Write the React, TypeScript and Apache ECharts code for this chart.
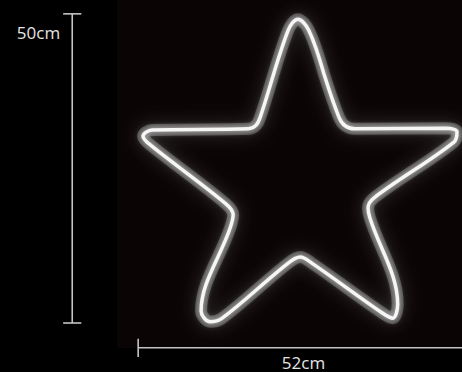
import React, { useEffect, useRef } from "react";
import * as echarts from "echarts";

// Star outline (neon tube), in cm: [x, y], origin at left tip / bottom tip
const starOutline: [number, number][] = [
  [29.9, 41.2], [32.4, 34.0], [33.4, 32.6], [35.0, 32.1],
  [50.2, 32.2], [51.9, 31.6], [51.4, 29.9],
  [38.2, 20.7], [37.2, 19.0], [37.5, 17.4],
  [42.1, 3.1], [41.3, 0.8], [39.5, 1.7],
  [27.9, 9.9], [26.0, 10.9], [24.0, 9.9],
  [13.1, 0.8], [11.1, 0.2], [9.6, 2.0],
  [14.4, 15.7], [14.9, 17.9], [13.7, 19.7],
  [1.0, 29.6], [0.0, 30.9], [1.5, 31.9],
  [17.4, 32.1], [18.7, 32.7], [19.5, 34.4],
  [24.0, 48.4], [25.6, 50.2], [27.4, 48.4],
  [29.9, 41.2],
];

// Dimension lines (cm)
const heightLine: [number, number][] = [[-11.7, 0], [-11.7, 51.1]];
const heightCapTop: [number, number][] = [[-13.2, 51.1], [-10.2, 51.1]];
const heightCapBottom: [number, number][] = [[-13.2, 0], [-10.2, 0]];
const widthLine: [number, number][] = [[-0.8, -4.1], [52.8, -4.1]];
const widthCapLeft: [number, number][] = [[-0.8, -2.6], [-0.8, -5.6]];

const heightLabel = "50cm";
const widthLabel = "52cm";

export default function App() {
  const ref = useRef<HTMLDivElement>(null);
  useEffect(() => {
    if (!ref.current) return;
    const chart = echarts.init(ref.current, null, { renderer: "svg" });
    const dimStyle = { color: "#c4c4c4", width: 1.6 };
    const dimSeries = (data: [number, number][]) => ({
      type: "line",
      data,
      showSymbol: false,
      silent: true,
      lineStyle: dimStyle,
      z: 3,
    });
    chart.setOption({
      animation: false,
      backgroundColor: "#000000",
      grid: { left: 0, right: 0, top: 0, bottom: 0 },
      xAxis: { type: "value", min: -23.64, max: 52.73, show: false },
      yAxis: { type: "value", min: -8.1, max: 53.39, show: false },
      graphic: [
        {
          type: "rect",
          z: -10,
          silent: true,
          shape: { x: 117, y: 0, width: 345, height: 348 },
          style: { fill: "#0a0404" },
        },
        {
          type: "text",
          x: 38.5,
          y: 32,
          style: {
            text: heightLabel,
            fill: "#e4e4e4",
            fontSize: 17,
            fontFamily: "Open Sans",
            align: "center",
            verticalAlign: "middle",
          },
        },
        {
          type: "text",
          x: 303.5,
          y: 362,
          style: {
            text: widthLabel,
            fill: "#e4e4e4",
            fontSize: 17,
            fontFamily: "Open Sans",
            align: "center",
            verticalAlign: "middle",
          },
        },
      ],
      series: [
        {
          type: "line",
          data: starOutline,
          smooth: 0.35,
          showSymbol: false,
          silent: true,
          z: 4,
          lineStyle: {
            color: "rgba(255,255,255,0.22)",
            width: 12,
            shadowBlur: 18,
            shadowColor: "rgba(255,255,255,0.7)",
          },
        },
        {
          type: "line",
          data: starOutline,
          smooth: 0.35,
          showSymbol: false,
          silent: true,
          z: 5,
          lineStyle: {
            color: "#f6f6f6",
            width: 3.5,
            shadowBlur: 6,
            shadowColor: "rgba(255,255,255,0.9)",
          },
        },
        dimSeries(heightLine),
        dimSeries(heightCapTop),
        dimSeries(heightCapBottom),
        dimSeries(widthLine),
        dimSeries(widthCapLeft),
      ],
    });
    return () => chart.dispose();
  }, []);
  return (
    <div
      ref={ref}
      style={{ position: "fixed", left: 0, top: 0, width: 462, height: 372 }}
    />
  );
}
